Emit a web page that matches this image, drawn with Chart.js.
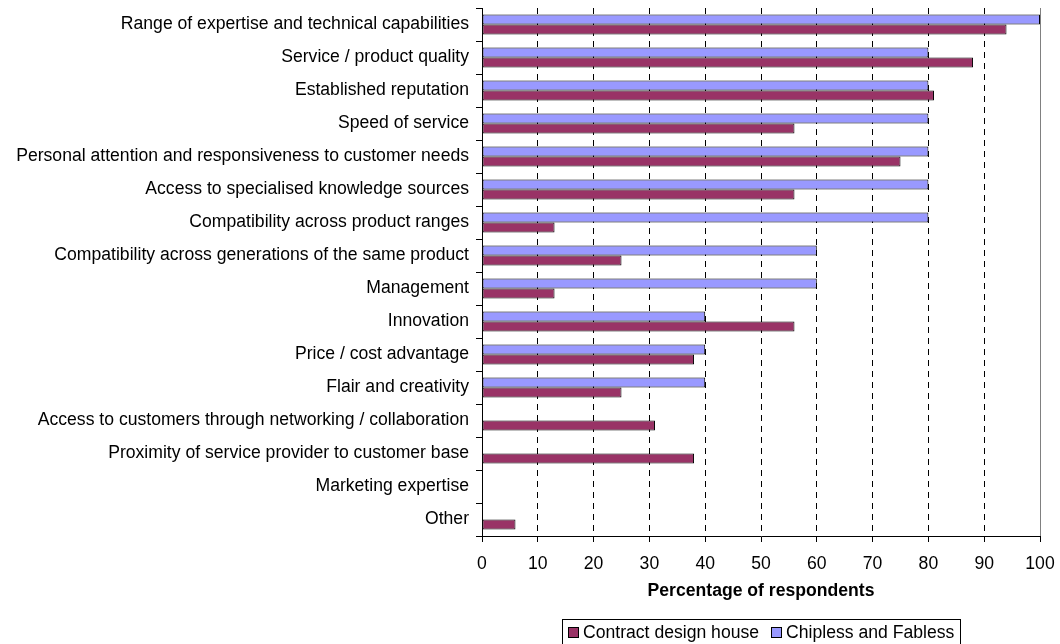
<!DOCTYPE html>
<html>
<head>
<meta charset="utf-8">
<title>Percentage of respondents</title>
<script src="https://cdn.jsdelivr.net/npm/chart.js@4.4.1/dist/chart.umd.min.js"></script>
<style>
  html, body { margin: 0; padding: 0; background: #fff; }
  #wrap { width: 1060px; height: 644px; }
</style>
</head>
<body>
<div id="wrap"><canvas id="chart" width="1060" height="644"></canvas></div>
<script>
// data
const categories = [
  'Range of expertise and technical capabilities',
  'Service / product quality',
  'Established reputation',
  'Speed of service',
  'Personal attention and responsiveness to customer needs',
  'Access to specialised knowledge sources',
  'Compatibility across product ranges',
  'Compatibility across generations of the same product',
  'Management',
  'Innovation',
  'Price / cost advantage',
  'Flair and creativity',
  'Access to customers through networking / collaboration',
  'Proximity of service provider to customer base',
  'Marketing expertise',
  'Other',
];
const chiplessFabless = [100, 80, 80, 80, 80, 80, 80, 60, 60, 40, 40, 40, 0, 0, 0, 0];
const contractDesign = [94, 88, 81, 56, 75, 56, 13, 25, 13, 56, 38, 25, 31, 38, 0, 6];
const xMin = 0;
const xMax = 100;
const xStep = 10;

const FONT = '"Liberation Sans", Arial, Helvetica, sans-serif';
const FONT_SIZE = 17.6;
Chart.defaults.font.family = FONT;
Chart.defaults.font.size = FONT_SIZE;
Chart.defaults.color = '#000';

// legend in a box, centred under the plot area (legend order is reversed)
const boxLegend = {
  id: 'boxLegend',
  afterDraw(chart) {
    const { ctx, chartArea } = chart;
    const items = chart.data.datasets.slice().reverse();
    const sq = 11;
    const gap = 4;
    const itemGap = 12;
    const padX = 6;
    const top = 619;
    const h = 26;
    ctx.save();
    ctx.font = FONT_SIZE + 'px ' + FONT;
    const widths = items.map((d) => sq + gap + ctx.measureText(d.label).width);
    const total = Math.round(widths.reduce((a, b) => a + b, 0) + itemGap * (items.length - 1) + padX * 2);
    const x0 = Math.round((chartArea.left + chartArea.right) / 2 - total / 2);
    ctx.lineWidth = 1;
    ctx.strokeStyle = '#000';
    ctx.fillStyle = '#fff';
    ctx.fillRect(x0, top, total, h);
    ctx.strokeRect(x0 + 0.5, top + 0.5, total, h);
    let x = x0 + padX;
    const cy = top + 13;
    items.forEach((d, i) => {
      const sx = Math.round(x);
      ctx.fillStyle = d.backgroundColor;
      ctx.fillRect(sx, cy - 5, sq, sq);
      ctx.strokeRect(sx + 0.5, cy - 5 + 0.5, sq - 1, sq - 1);
      ctx.fillStyle = '#000';
      ctx.textBaseline = 'middle';
      ctx.textAlign = 'left';
      ctx.fillText(d.label, x + sq + gap, cy + 1);
      x += widths[i] + itemGap;
    });
    ctx.restore();
  },
};

// solid grey right edge of the plot area, as in the original
const plotEdge = {
  id: 'plotEdge',
  afterDatasetsDraw(chart) {
    const { ctx, chartArea } = chart;
    ctx.save();
    ctx.strokeStyle = '#808080';
    ctx.lineWidth = 1;
    ctx.beginPath();
    ctx.moveTo(Math.round(chartArea.right) + 0.5, chartArea.top);
    ctx.lineTo(Math.round(chartArea.right) + 0.5, chartArea.bottom);
    ctx.stroke();
    ctx.restore();
  },
};

const chart = new Chart(document.getElementById('chart'), {
  type: 'bar',
  data: {
    labels: categories,
    datasets: [
      {
        label: 'Chipless and Fabless',
        data: chiplessFabless,
        backgroundColor: '#9999FF',
        borderColor: '#000',
        borderWidth: 1,
        borderSkipped: false,
        categoryPercentage: 0.6,
        barPercentage: 1,
      },
      {
        label: 'Contract design house',
        data: contractDesign,
        backgroundColor: '#993366',
        borderColor: '#000',
        borderWidth: 1,
        borderSkipped: false,
        categoryPercentage: 0.6,
        barPercentage: 1,
      },
    ],
  },
  options: {
    indexAxis: 'y',
    responsive: false,
    animation: false,
    devicePixelRatio: 1,
    layout: { padding: { top: 8, right: 20, left: 0, bottom: 42 } },
    plugins: {
      legend: { display: false },
      tooltip: { enabled: false },
    },
    scales: {
      x: {
        min: xMin,
        max: xMax,
        ticks: { stepSize: xStep, padding: 12, color: '#000' },
        grid: {
          color: '#000',
          lineWidth: 1,
          tickColor: '#000',
          tickLength: 6,
        },
        border: { color: '#000', dash: [6, 5] },
        title: {
          display: true,
          text: 'Percentage of respondents',
          color: '#000',
          font: { size: FONT_SIZE, weight: 'bold' },
          padding: { top: 8, bottom: 0 },
        },
        afterFit: (scale) => {
          scale.height = 66;
          scale.paddingLeft = 0;
          scale.paddingRight = 0;
        },
      },
      y: {
        grid: {
          offset: true,
          drawOnChartArea: false,
          drawTicks: true,
          tickLength: 6,
          tickColor: '#000',
        },
        border: { color: '#000' },
        ticks: { color: '#000', padding: 7, autoSkip: false, font: { size: FONT_SIZE, lineHeight: 1 } },
        afterFit: (scale) => {
          scale.width = 482;
          scale.paddingTop = 0;
          scale.paddingBottom = 0;
        },
      },
    },
  },
  plugins: [plotEdge, boxLegend],
});
</script>
</body>
</html>
